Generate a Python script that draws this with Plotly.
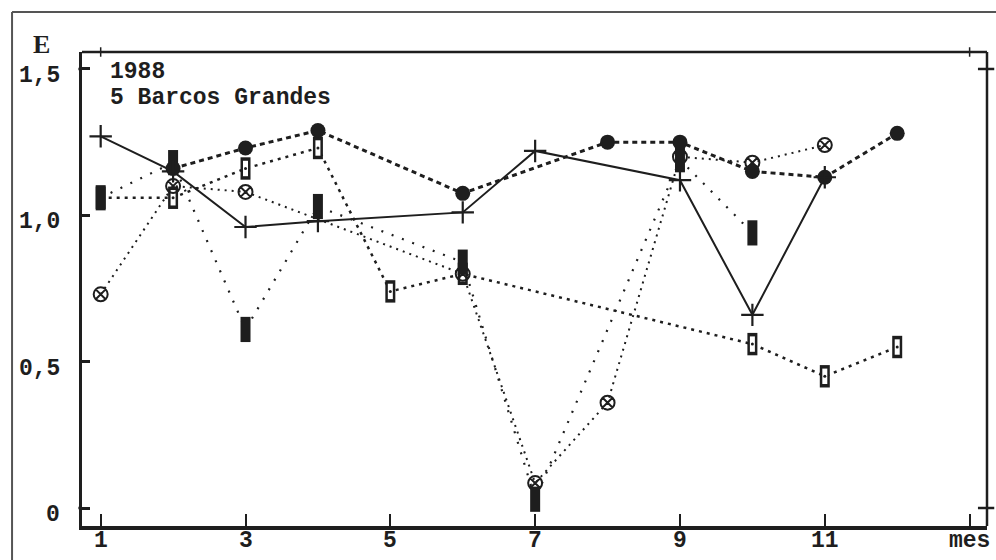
import plotly.graph_objects as go

# ---- data ----
months = [1, 2, 3, 4, 5, 6, 7, 8, 9, 10, 11, 12]
serie_cruz = [1.27, 1.15, 0.96, 0.98, None, 1.01, 1.22, None, 1.12, 0.66, 1.13, None]
serie_trebol = [None, 1.16, 1.23, 1.29, None, 1.075, None, 1.25, 1.25, 1.15, 1.13, 1.28]
serie_barra = [1.06, 1.18, 0.61, 1.03, None, 0.84, 0.03, None, 1.19, 0.94, None, None]
serie_cuadro = [1.06, 1.06, 1.16, 1.23, 0.74, 0.80, None, None, None, 0.56, 0.45, 0.55]
serie_circulo = [0.73, 1.10, 1.08, None, None, 0.80, 0.085, 0.36, 1.20, 1.18, 1.24, None]

x_tick_vals = [1, 3, 5, 7, 9, 11, 13]
x_tick_text = ["1", "3", "5", "7", "9", "11", "mes"]
y_tick_vals = [0, 0.5, 1.0, 1.5]
y_tick_text = ["0", "0,5", "1,0", "1,5"]
title_lines = ["1988", "5 Barcos Grandes"]
y_title = "E"

INK = "#1e1e1e"
FONT = "Liberation Mono"

X_RANGE = [0.742, 13.24]
Y_RANGE = [-0.0615, 1.558]

fig = go.Figure()

def xy(vals):
    xs = [m for m, v in zip(months, vals) if v is not None]
    ys = [v for v in vals if v is not None]
    return xs, ys

# ---- lines ----
xs, ys = xy(serie_cuadro)
fig.add_trace(go.Scatter(x=xs, y=ys, mode="lines", line=dict(color=INK, width=2.5, dash="3px,5px"), hoverinfo="skip"))
xs, ys = xy(serie_circulo)
fig.add_trace(go.Scatter(x=xs, y=ys, mode="lines", line=dict(color=INK, width=2, dash="2px,5px"), hoverinfo="skip"))
xs, ys = xy(serie_barra)
fig.add_trace(go.Scatter(x=xs, y=ys, mode="lines", line=dict(color=INK, width=2.2, dash="2px,9px"), hoverinfo="skip"))
xs, ys = xy(serie_trebol)
fig.add_trace(go.Scatter(x=xs, y=ys, mode="lines", line=dict(color=INK, width=3, dash="5px,4px"), hoverinfo="skip"))
xs, ys = xy(serie_cruz)
fig.add_trace(go.Scatter(x=xs, y=ys, mode="lines", line=dict(color=INK, width=2), hoverinfo="skip"))

# ---- markers ----
xs, ys = xy(serie_cuadro)
fig.add_trace(go.Scatter(x=xs, y=ys, mode="markers", marker=dict(symbol="line-ns", size=16, line=dict(color=INK, width=10))))
fig.add_trace(go.Scatter(x=xs, y=ys, mode="markers", marker=dict(symbol="line-ns", size=11, line=dict(color="white", width=5))))
fig.add_trace(go.Scatter(x=xs, y=ys, mode="markers", marker=dict(symbol="circle", size=3, color=INK)))
xs, ys = xy(serie_circulo)
fig.add_trace(go.Scatter(x=xs, y=ys, mode="markers", marker=dict(symbol="circle-x-open", size=14, color=INK, line=dict(color=INK, width=2))))
xs, ys = xy(serie_barra)
fig.add_trace(go.Scatter(x=xs, y=ys, mode="markers", marker=dict(symbol="line-ns", size=18, line=dict(color=INK, width=10))))
xs, ys = xy(serie_trebol)
fig.add_trace(go.Scatter(x=xs, y=ys, mode="markers", marker=dict(symbol="circle", size=15, color=INK)))
xs, ys = xy(serie_cruz)
fig.add_trace(go.Scatter(x=xs, y=ys, mode="markers", marker=dict(symbol="cross-thin", size=16, line=dict(color=INK, width=2.2))))

annotations = []
for v, t in zip(y_tick_vals, y_tick_text):
    annotations.append(dict(x=-0.0221, xref="paper", y=v - 0.024, yref="y", text="<b>" + t + "</b>", showarrow=False,
                            xanchor="right", yanchor="middle", font=dict(family=FONT, size=23, color=INK)))
for v, t in zip(x_tick_vals, x_tick_text):
    annotations.append(dict(x=v, xref="x", y=-0.032, yref="paper", text="<b>" + t + "</b>", showarrow=False,
                            xanchor="center", yanchor="middle", font=dict(family=FONT, size=23, color=INK)))
annotations.append(dict(x=-0.0442, xref="paper", y=1.015, yref="paper", text="<b>" + y_title + "</b>", showarrow=False,
                        xanchor="center", yanchor="middle", font=dict(family="Liberation Serif", size=26, color=INK)))
annotations.append(dict(x=0.0287, xref="paper", y=0.958, yref="paper", text="<b>" + title_lines[0] + "</b>", showarrow=False,
                        xanchor="left", yanchor="middle", font=dict(family=FONT, size=23, color=INK)))
annotations.append(dict(x=0.0287, xref="paper", y=0.903, yref="paper", text="<b>" + title_lines[1] + "</b>", showarrow=False,
                        xanchor="left", yanchor="middle", font=dict(family=FONT, size=23, color=INK)))

shapes = [
    dict(type="line", xref="paper", yref="paper", x0=-0.0773, x1=-0.0773, y0=-0.08, y1=1.0844, line=dict(color="#555", width=2)),
    dict(type="line", xref="paper", yref="paper", x0=-0.0773, x1=1.02, y0=1.0844, y1=1.0844, line=dict(color="#555", width=2)),
    dict(type="line", xref="paper", yref="paper", x0=0, x1=1, y0=1, y1=1, line=dict(color=INK, width=2.5)),
    dict(type="line", xref="paper", yref="paper", x0=1, x1=1, y0=0, y1=1, line=dict(color=INK, width=2.5)),
]
for v in [x_tick_vals[0], x_tick_vals[-1]]:
    shapes.append(dict(type="line", xref="x", yref="paper", x0=v, x1=v, y0=0.99, y1=1.01, line=dict(color=INK, width=1.5)))
for v in [y_tick_vals[0], y_tick_vals[-1]]:
    shapes.append(dict(type="line", xref="paper", yref="y", x0=0.99, x1=1.008, y0=v, y1=v, line=dict(color=INK, width=2.5)))
    shapes.append(dict(type="line", xref="paper", yref="y", x0=-0.004, x1=0.0, y0=v, y1=v, line=dict(color=INK, width=2.5)))

fig.update_layout(
    width=996, height=560,
    margin=dict(l=82, r=9, t=52, b=34),
    paper_bgcolor="white", plot_bgcolor="white",
    showlegend=False,
    xaxis=dict(range=X_RANGE, showgrid=False, zeroline=False, showline=True, linecolor=INK, linewidth=3.5,
               ticks="inside", tickvals=x_tick_vals, ticklen=12, tickwidth=1.5, tickcolor=INK,
               showticklabels=False),
    yaxis=dict(range=Y_RANGE, showgrid=False, zeroline=False, showline=True, linecolor=INK, linewidth=2.5,
               ticks="inside", tickvals=y_tick_vals, ticklen=8, tickwidth=2.5, tickcolor=INK,
               showticklabels=False),
    annotations=annotations,
    shapes=shapes,
)

fig.write_html("out.html")
